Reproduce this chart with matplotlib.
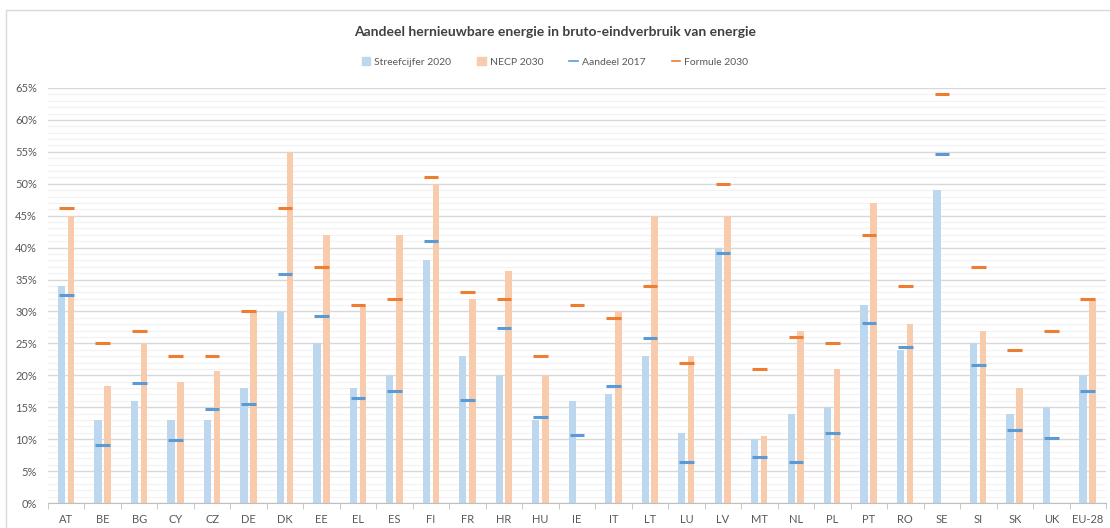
import matplotlib.pyplot as plt
from matplotlib.patches import Rectangle
from matplotlib.lines import Line2D
from matplotlib.ticker import MultipleLocator, PercentFormatter
import numpy as np

plt.rcParams['font.family'] = ['Lato', 'DejaVu Sans']

landen = ['AT', 'BE', 'BG', 'CY', 'CZ', 'DE', 'DK', 'EE', 'EL', 'ES', 'FI', 'FR',
          'HR', 'HU', 'IE', 'IT', 'LT', 'LU', 'LV', 'MT', 'NL', 'PL', 'PT', 'RO',
          'SE', 'SI', 'SK', 'UK', 'EU-28']
streef_2020 = [34, 13, 16, 13, 13, 18, 30, 25, 18, 20, 38, 23, 20, 13, 16, 17, 23,
               11, 40, 10, 14, 15, 31, 24, 49, 25, 14, 15, 20]
necp_2030 = [45, 18.3, 25, 19, 20.7, 30, 55, 42, 31, 42, 50, 32, 36.4, 20, np.nan,
             30, 45, 23, 45, 10.5, 27, 21, 47, 28, np.nan, 27, 18, np.nan, 32]
aandeel_2017 = [32.6, 9.1, 18.8, 9.9, 14.8, 15.5, 35.8, 29.3, 16.4, 17.5, 41.0,
                16.2, 27.4, 13.4, 10.7, 18.3, 25.9, 6.4, 39.2, 7.2, 6.5, 10.9, 28.2,
                24.5, 54.6, 21.6, 11.5, 10.2, 17.5]
formule_2030 = [46.2, 25, 27, 23, 23, 30, 46.2, 37, 31, 32, 51, 33, 32, 23, 31, 29,
                34, 22, 50, 21, 26, 25, 42, 34, 64, 37, 24, 27, 32]

c_blauw_bar = '#BDD7EE'
c_oranje_bar = '#F8CBAD'
c_blauw = '#5B9BD5'
c_oranje = '#ED7D31'
c_tekst = '#595959'

fig = plt.figure(figsize=(11.10, 5.28), dpi=100)
# chart area border
fig.patches.append(Rectangle((6 / 1110, -0.1), 1.2, 1 - 10 / 528 + 0.1,
                             transform=fig.transFigure, fill=False,
                             edgecolor='#D9D9D9', linewidth=1.0))

ax = fig.add_axes([48 / 1110, 25 / 528, 1058 / 1110, (503 - 88) / 528])
x = np.arange(len(landen))
ax.bar(x - 0.13, streef_2020, width=0.2, color=c_blauw_bar, zorder=2)
ax.bar(x + 0.13, necp_2030, width=0.18, color=c_oranje_bar, zorder=2)
for xi, a, f in zip(x, aandeel_2017, formule_2030):
    ax.hlines(a, xi - 0.2, xi + 0.2, color=c_blauw, linewidth=2.2, zorder=3)
    ax.hlines(f, xi - 0.2, xi + 0.2, color=c_oranje, linewidth=2.2, zorder=3)

ax.set_xlim(-0.5, len(landen) - 0.5)
ax.set_ylim(0, 65)
ax.yaxis.set_major_locator(MultipleLocator(5))
ax.yaxis.set_minor_locator(MultipleLocator(1))
ax.yaxis.set_major_formatter(PercentFormatter(decimals=0))
ax.grid(axis='y', which='major', color='#D9D9D9', linewidth=1.0, zorder=0)
ax.grid(axis='y', which='minor', color='#F2F2F2', linewidth=0.8, zorder=0)
ax.set_axisbelow(True)

ax.set_xticks(x)
ax.set_xticklabels(landen)
ax.set_xticks(np.arange(len(landen) + 1) - 0.5, minor=True)
ax.tick_params(axis='x', which='major', length=0, pad=8, labelsize=8, labelcolor=c_tekst)
ax.tick_params(axis='x', which='minor', length=4, color='#BFBFBF', direction='out')
ax.tick_params(axis='y', which='both', length=0, pad=8, labelsize=8, labelcolor=c_tekst)
for s in ['top', 'right', 'left']:
    ax.spines[s].set_visible(False)
ax.spines['bottom'].set_color('#BFBFBF')

fig.text(0.5, 1 - 32 / 528, 'Aandeel hernieuwbare energie in bruto-eindverbruik van energie',
         ha='center', va='center', fontsize=10, color='#404040', fontweight='bold')

handles = [
    Rectangle((0, 0), 1, 1, color=c_blauw_bar),
    Rectangle((0, 0), 1, 1, color=c_oranje_bar),
    Line2D([0], [0], color=c_blauw, linewidth=1.2),
    Line2D([0], [0], color=c_oranje, linewidth=1.2),
]
fig.legend(handles, ['Streefcijfer 2020', 'NECP 2030', 'Aandeel 2017', 'Formule 2030'],
           loc='center', bbox_to_anchor=(0.5, 1 - 62 / 528), ncol=4, frameon=False,
           fontsize=7.5, labelcolor=c_tekst, handlelength=0.8, handleheight=0.8,
           handletextpad=0.4, columnspacing=2.5)

fig.savefig('out.png', dpi=100)
